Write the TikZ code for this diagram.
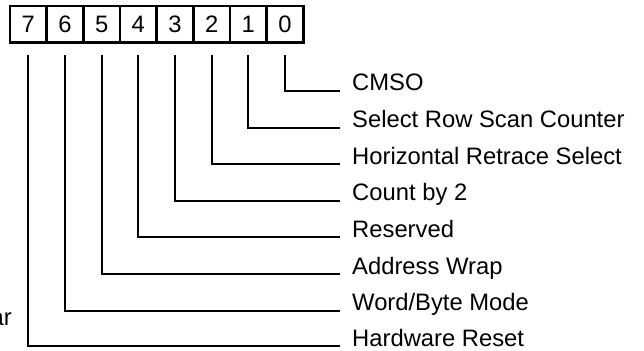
\documentclass[tikz,border=0pt]{standalone}
\usepackage{fontspec}
\setmainfont{Liberation Sans}
\usepackage{tikz}

\tikzset{
  bitcell/.style={draw, line width=2.1pt, minimum size=1.1cm, inner sep=0pt},
  bitlabel/.style={anchor=base west, inner xsep=0.36cm, inner ysep=0pt},
  bitline/.style={line width=1.7pt}
}

\begin{document}
\begin{tikzpicture}[every node/.style={font=\fontsize{20.3}{24}\selectfont}]
            \useasboundingbox (0,0) rectangle (19.32,10.5);
            % register bits
            \node[bitcell] (b7) at (0.85,9.77) {7};
            \node[bitcell] (b6) at (1.95,9.77) {6};
            \node[bitcell] (b5) at (3.05,9.77) {5};
            \node[bitcell] (b4) at (4.15,9.77) {4};
            \node[bitcell] (b3) at (5.25,9.77) {3};
            \node[bitcell] (b2) at (6.35,9.77) {2};
            \node[bitcell] (b1) at (7.45,9.77) {1};
            \node[bitcell] (b0) at (8.55,9.77) {0};
            % field names
            \node[bitlabel] (l0) at (10.2,7.77) {CMSO};
            \node[bitlabel] (l1) at (10.2,6.672) {Select Row Scan Counter};
            \node[bitlabel] (l2) at (10.2,5.574) {Horizontal Retrace Select};
            \node[bitlabel] (l3) at (10.2,4.476) {Count by 2};
            \node[bitlabel] (l4) at (10.2,3.378) {Reserved};
            \node[bitlabel] (l5) at (10.2,2.28) {Address Wrap};
            \node[bitlabel] (l6) at (10.2,1.182) {Word/Byte Mode};
            \node[bitlabel] (l7) at (10.2,0.12) {Hardware Reset};
            \node[anchor=base east, inner sep=0pt] (cut) at (0.36,0.75) {ar};
            % leaders
            \draw[bitline] ([yshift=-0.33cm]b0.south) |- (l0.base west);
            \draw[bitline] ([yshift=-0.33cm]b1.south) |- (l1.base west);
            \draw[bitline] ([yshift=-0.33cm]b2.south) |- (l2.base west);
            \draw[bitline] ([yshift=-0.33cm]b3.south) |- (l3.base west);
            \draw[bitline] ([yshift=-0.33cm]b4.south) |- (l4.base west);
            \draw[bitline] ([yshift=-0.33cm]b5.south) |- (l5.base west);
            \draw[bitline] ([yshift=-0.33cm]b6.south) |- (l6.base west);
            \draw[bitline] ([yshift=-0.33cm]b7.south) |- (l7.base west);
        \end{tikzpicture}
\end{document}
